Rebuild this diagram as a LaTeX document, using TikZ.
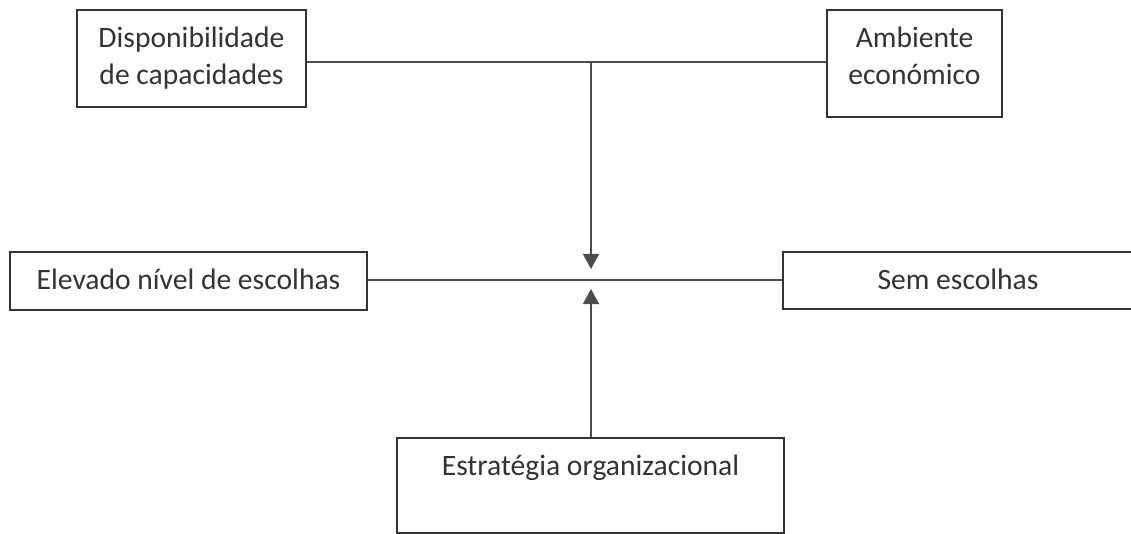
\documentclass[tikz,border=0pt]{standalone}
\usepackage{fontspec}
\setmainfont{Carlito}
\usetikzlibrary{arrows.meta}
\begin{document}
\begin{tikzpicture}[x=1pt,y=-1pt,
		font=\fontsize{29.6}{37.5}\selectfont,
		box/.style={draw=black!80,line width=1.6pt,text=black!80,inner sep=0pt,align=center},
		link/.style={draw=black!70,line width=1.6pt},
		seta/.style={link,-{Triangle[length=15pt,width=16pt]}}]
	\useasboundingbox (0,0) rectangle (1131,534);
	\clip (0,0) rectangle (1131,534);
	\def\topY{62} \def\midY{280} \def\axX{591}
	% caixas
	\node[box,minimum width=229pt,text height=75pt,text depth=22pt] (cap) at (191.5,58.5) {Disponibilidade\\de capacidades};
	\node[box,minimum width=175pt,text height=75pt,text depth=32pt] (amb) at (914.5,63.5) {Ambiente\\económico};
	\node[box,minimum width=357pt,text height=38pt,text depth=20pt] (elev) at (188.5,281) {Elevado nível de escolhas};
	\node[box,minimum width=350pt,text height=38pt,text depth=19pt] (sem) at (958,280.5) {Sem escolhas};
	\node[box,minimum width=387pt,text height=37pt,text depth=58pt] (estr) at (590.5,485.5) {Estratégia organizacional};
	\coordinate (top) at (\axX,\topY);
	\coordinate (mid) at (\axX,\midY);
	% ligações
	\draw[link] (cap.east |- top) -- (amb.west |- top);
	\draw[link] (elev.east |- mid) -- (sem.west |- mid);
	\draw[seta] (top) -- ([yshift=11pt]mid);
	\draw[seta] (estr.north -| mid) -- ([yshift=-9pt]mid);
\end{tikzpicture}
\end{document}
